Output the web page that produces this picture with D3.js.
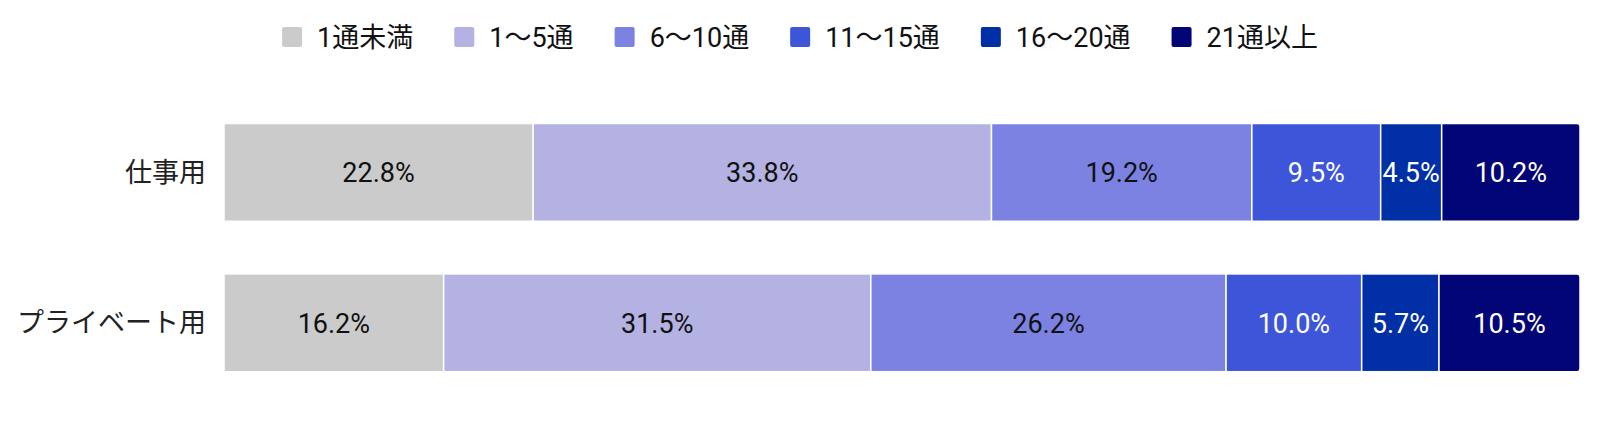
<!DOCTYPE html>
<html>
<head>
<meta charset="utf-8">
<script src="https://cdn.jsdelivr.net/npm/d3@7"></script>
<style>
  html, body { margin: 0; padding: 0; background: #fff; }
  #chart { width: 1600px; height: 448px; }
  text { font-family: Roboto, "Noto Sans CJK JP", sans-serif; }
</style>
</head>
<body>
<div id="chart"></div>
<script>
// Data
var categories = ['仕事用', 'プライベート用']
var seriesNames = ['1通未満', '1〜5通', '6〜10通', '11〜15通', '16〜20通', '21通以上']
var workValues = [22.8, 33.8, 19.2, 9.5, 4.5, 10.2]
var privateValues = [16.2, 31.5, 26.2, 10.0, 5.7, 10.5]
var colors = ['#cbcbcb', '#b3b2e3', '#7c82e2', '#3d55d8', '#0130a6', '#020575']
var labelColors = ['#111', '#111', '#111', '#fff', '#fff', '#fff']

var rows = [workValues, privateValues]

var width = 1600, height = 448
var fontSize = 27

var svg = d3.select('#chart').append('svg')
  .attr('width', width)
  .attr('height', height)

// Scales
var x = d3.scaleLinear()
  .domain([0, 100])
  .range([224, 1580])

var y = d3.scaleBand()
  .domain(categories)
  .range([123.5, 371.7])
  .paddingInner(0.35)
  .paddingOuter(0)

// Y axis labels
var yAxis = d3.axisLeft(y).tickSize(0).tickPadding(18)
var yg = svg.append('g')
  .attr('transform', 'translate(' + x(0) + ',0)')
  .call(yAxis)
yg.select('.domain').remove()
yg.selectAll('.tick text')
  .attr('fill', '#222')
  .style('font-size', fontSize + 'px')
  .attr('dy', '0.35em')

// Bars
rows.forEach(function(vals, ri) {
  var cat = categories[ri]
  var acc = 0
  var segs = vals.map(function(v, i) {
    var s = {start: acc, value: v, index: i}
    acc += v
    return s
  })
  var g = svg.append('g')
  var top = y(cat), h = y.bandwidth()

  segs.forEach(function(s) {
    var x0 = x(s.start), x1 = Math.min(x(s.start + s.value), x.range()[1])
    if (s.index === segs.length - 1) {
      // last segment gets rounded right corners
      var r = 3
      var p = d3.path()
      p.moveTo(x0, top)
      p.lineTo(x1 - r, top)
      p.arcTo(x1, top, x1, top + r, r)
      p.lineTo(x1, top + h - r)
      p.arcTo(x1, top + h, x1 - r, top + h, r)
      p.lineTo(x0, top + h)
      p.closePath()
      g.append('path')
        .attr('d', p.toString())
        .attr('fill', colors[s.index])
        .attr('stroke', '#fff')
        .attr('stroke-width', 1.5)
    } else {
      g.append('rect')
        .attr('x', x0)
        .attr('y', top)
        .attr('width', x1 - x0)
        .attr('height', h)
        .attr('fill', colors[s.index])
        .attr('stroke', '#fff')
        .attr('stroke-width', 1.5)
    }
    g.append('text')
      .attr('x', (x0 + x1) / 2)
      .attr('y', top + h / 2)
      .attr('dy', '0.36em')
      .attr('text-anchor', 'middle')
      .attr('fill', labelColors[s.index])
      .style('font-size', fontSize + 'px')
      .text(s.value.toFixed(1) + '%')
  })
})

// Legend
var boxSize = 20, boxGap = 15, itemGap = 41, legendY = 37
var legend = svg.append('g')
var items = legend.selectAll('g')
  .data(seriesNames)
  .enter().append('g')

items.append('rect')
  .attr('width', boxSize)
  .attr('height', boxSize)
  .attr('y', legendY - boxSize / 2)
  .attr('rx', 2)
  .attr('fill', function(d, i) { return colors[i] })

items.append('text')
  .attr('x', boxSize + boxGap)
  .attr('y', legendY)
  .attr('dy', '0.36em')
  .attr('fill', '#111')
  .style('font-size', fontSize + 'px')
  .text(function(d) { return d })

var offsets = [], cur = 0
items.each(function() {
  var tw = d3.select(this).select('text').node().getComputedTextLength()
  offsets.push(cur)
  cur += boxSize + boxGap + tw + itemGap
})
var total = cur - itemGap
var startX = (width - total) / 2
items.attr('transform', function(d, i) { return 'translate(' + (startX + offsets[i]) + ',0)' })
</script>
</body>
</html>
